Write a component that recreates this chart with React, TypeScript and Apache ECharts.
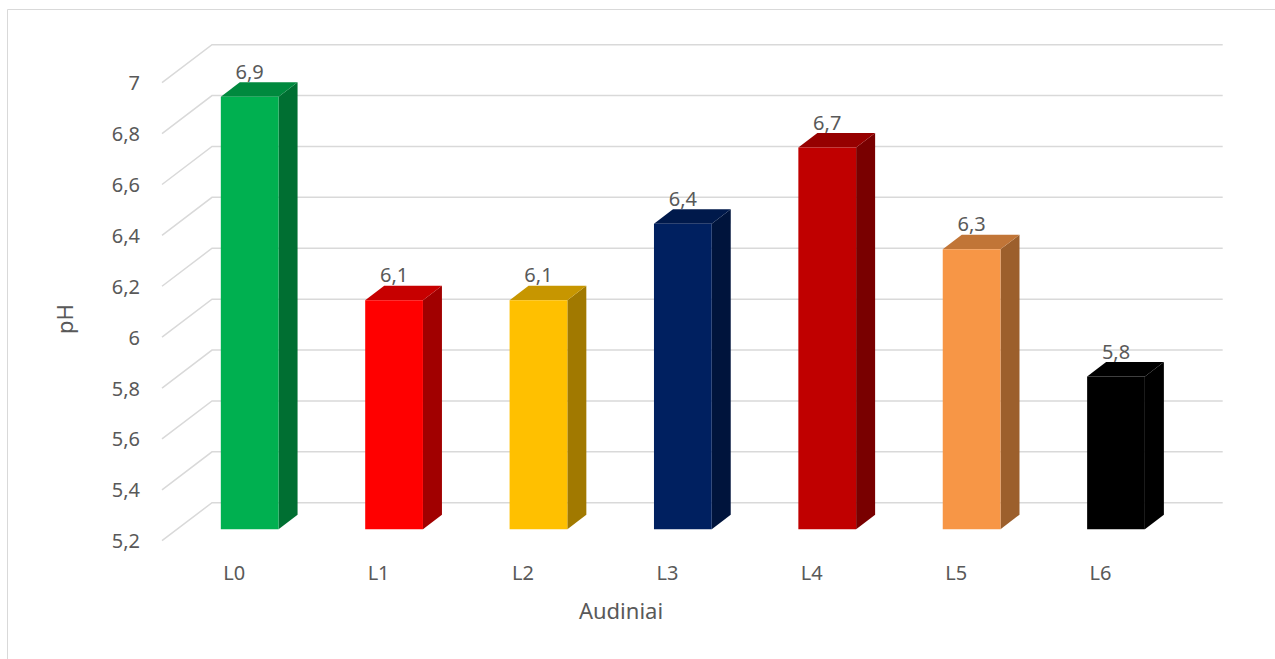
import React, { useEffect, useRef } from "react";
import * as echarts from "echarts";

const categories = ["L0", "L1", "L2", "L3", "L4", "L5", "L6"];
const values = [6.9, 6.1, 6.1, 6.4, 6.7, 6.3, 5.8];
const barColors = ["#00B050", "#FF0000", "#FFC000", "#002060", "#C00000", "#F79646", "#000000"];
const yTicks = [5.2, 5.4, 5.6, 5.8, 6.0, 6.2, 6.4, 6.6, 6.8, 7.0];
const yTitle = "pH";
const xTitle = "Audiniai";

const FONT = "'Noto Sans', 'Open Sans', sans-serif";
const TEXT = "#595959";
const GRID = "#d9d9d9";

const fmt = (v: number) => String(Math.round(v * 10) / 10).replace(".", ",");

function shade(hex: string, f: number) {
  const n = parseInt(hex.slice(1), 16);
  const r = Math.round(((n >> 16) & 255) * f);
  const g = Math.round(((n >> 8) & 255) * f);
  const b = Math.round((n & 255) * f);
  return `rgb(${r},${g},${b})`;
}

// 3D projection offsets
const WALL_DX = 50;
const WALL_DY = -38;
const BAR_OFF_X = 15.5;
const BAR_OFF_Y = -11.5;
const DEPTH_X = 19;
const DEPTH_Y = -14.5;

export default function App() {
  const ref = useRef<HTMLDivElement>(null);
  useEffect(() => {
    if (!ref.current) return;
    const chart = echarts.init(ref.current, null, { renderer: "svg" });
    const yMin = yTicks[0];
    const option: any = {
      animation: false,
      backgroundColor: "#ffffff",
      grid: { left: 162, right: 102.3, top: 82.7, bottom: 118.3, containLabel: false },
      xAxis: {
        type: "category",
        data: categories,
        axisLine: { show: false },
        axisTick: { show: false },
        splitLine: { show: false },
        axisLabel: { margin: 22, fontSize: 20, color: TEXT, fontFamily: FONT },
      },
      yAxis: {
        type: "value",
        min: yMin,
        max: yTicks[yTicks.length - 1],
        interval: 0.2,
        axisLine: { show: false },
        axisTick: { show: false },
        splitLine: { show: false },
        axisLabel: { margin: 22, fontSize: 20, color: TEXT, fontFamily: FONT, formatter: (v: number) => fmt(v) },
      },
      graphic: [
        {
          type: "rect",
          silent: true,
          shape: { x: 7.5, y: 9.5, width: 1400, height: 800 },
          style: { fill: "none", stroke: GRID, lineWidth: 1 },
        },
        {
          type: "text",
          x: 64,
          y: 319,
          rotation: Math.PI / 2,
          style: { text: yTitle, fill: TEXT, font: `22px ${FONT}`, align: "center", verticalAlign: "middle", textAlign: "center", textVerticalAlign: "middle" },
        },
        {
          type: "text",
          x: 621,
          y: 610,
          style: { text: xTitle, fill: TEXT, font: `22px ${FONT}`, align: "center", verticalAlign: "middle", textAlign: "center", textVerticalAlign: "middle" },
        },
      ],
      series: [
        {
          type: "custom",
          silent: true,
          z: 1,
          data: yTicks.map((t) => [0, t]),
          renderItem: (params: any, api: any) => {
            const cs = params.coordSys;
            const y = api.coord([0, api.value(1)])[1];
            return {
              type: "polyline",
              shape: {
                points: [
                  [cs.x, y],
                  [cs.x + WALL_DX, y + WALL_DY],
                  [cs.x + cs.width + WALL_DX, y + WALL_DY],
                ],
              },
              style: { stroke: GRID, lineWidth: 1.5, fill: "none" },
            };
          },
        },
        {
          type: "custom",
          z: 2,
          data: values.map((v, i) => [i, v]),
          renderItem: (params: any, api: any) => {
            const i = api.value(0);
            const v = api.value(1);
            const top = api.coord([i, v]);
            const base = api.coord([i, yMin]);
            const w = api.size([1, 0])[0] * 0.4;
            const cx = top[0] + BAR_OFF_X;
            const yT = top[1] + BAR_OFF_Y;
            const yB = base[1] + BAR_OFF_Y;
            const x0 = cx - w / 2;
            const x1 = cx + w / 2;
            const c = barColors[params.dataIndex];
            return {
              type: "group",
              children: [
                {
                  type: "polygon",
                  shape: { points: [[x1, yT], [x1 + DEPTH_X, yT + DEPTH_Y], [x1 + DEPTH_X, yB + DEPTH_Y], [x1, yB]] },
                  style: { fill: shade(c, 0.63) },
                },
                {
                  type: "polygon",
                  shape: { points: [[x0, yT], [x0 + DEPTH_X, yT + DEPTH_Y], [x1 + DEPTH_X, yT + DEPTH_Y], [x1, yT]] },
                  style: { fill: shade(c, 0.78) },
                },
                {
                  type: "rect",
                  shape: { x: x0, y: yT, width: w, height: yB - yT },
                  style: { fill: c },
                },
                {
                  type: "text",
                  x: cx,
                  y: yT + DEPTH_Y - 1,
                  style: {
                    text: fmt(v),
                    fill: TEXT,
                    font: `20px ${FONT}`,
                    align: "center",
                    verticalAlign: "bottom",
                    textAlign: "center",
                    textVerticalAlign: "bottom",
                  },
                },
              ],
            };
          },
        },
      ],
    };
    chart.setOption(option);
    return () => chart.dispose();
  }, []);
  return <div ref={ref} style={{ position: "absolute", left: 0, top: 0, width: 1275, height: 659 }} />;
}
